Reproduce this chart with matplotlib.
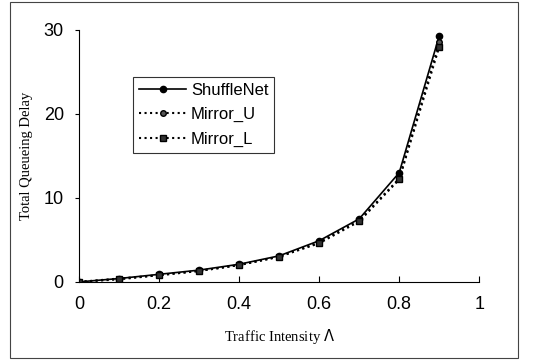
import matplotlib.pyplot as plt
from matplotlib.patches import Rectangle

# Traffic intensity vs. total queueing delay
intensity = [0, 0.1, 0.2, 0.3, 0.4, 0.5, 0.6, 0.7, 0.8, 0.9]
shufflenet = [0, 0.4, 0.9, 1.4, 2.1, 3.1, 4.9, 7.5, 13.0, 29.3]
mirror_u = [0, 0.3, 0.8, 1.3, 2.0, 3.0, 4.7, 7.3, 12.3, 28.5]
mirror_l = [0, 0.4, 0.8, 1.3, 2.0, 3.0, 4.6, 7.2, 12.2, 28.0]

xticks = [0, 0.2, 0.4, 0.6, 0.8, 1]
xticklabels = ['0', '0.2', '0.4', '0.6', '0.8', '1']
yticks = [0, 10, 20, 30]

fig = plt.figure(figsize=(5.49, 3.6), dpi=100)
ax = fig.add_axes([0.144, 0.217, 0.729, 0.70])

ax.plot(intensity, shufflenet, '-', color='black', lw=1.2, marker='o', ms=4.5, label='ShuffleNet')
ax.plot(intensity, mirror_u, ':', color='black', lw=1.5, marker='o', ms=4, mfc='#555555', label='Mirror_U')
ax.plot(intensity, mirror_l, ':', color='black', lw=1.5, marker='s', ms=4.5, mfc='#333333', label='Mirror_L')

ax.set_xlim(0, 1)
ax.set_ylim(0, 30)
ax.set_xticks(xticks)
ax.set_xticklabels(xticklabels)
ax.set_yticks(yticks)
ax.spines['top'].set_visible(False)
ax.spines['right'].set_visible(False)
ax.tick_params(axis='x', direction='in', length=4, pad=10, labelsize=13)
ax.tick_params(axis='y', direction='out', length=3, pad=8, labelsize=13)
for lab in ax.get_xticklabels() + ax.get_yticklabels():
    lab.set_family('Liberation Sans')

ax.set_xlabel('Traffic Intensity $\\mathit{\\Lambda}$', family='Liberation Serif', fontsize=10.5, labelpad=10)
ax.set_ylabel('Total Queueing Delay', family='Liberation Serif', fontsize=10.5, labelpad=8)

leg = ax.legend(loc='upper left', bbox_to_anchor=(0.115, 0.845), frameon=True, fancybox=False,
                edgecolor='black', prop={'family': 'Liberation Sans', 'size': 12},
                handlelength=2.8, borderpad=0.35, labelspacing=0.55, handletextpad=0.3)
leg.get_frame().set_linewidth(0.8)

# scanned page frame
fig.patches.append(Rectangle((10 / 549, 2 / 360), 508 / 549, 356 / 360, transform=fig.transFigure,
                             fill=False, edgecolor='#444444', lw=0.8))

fig.savefig('out.png', dpi=100)
